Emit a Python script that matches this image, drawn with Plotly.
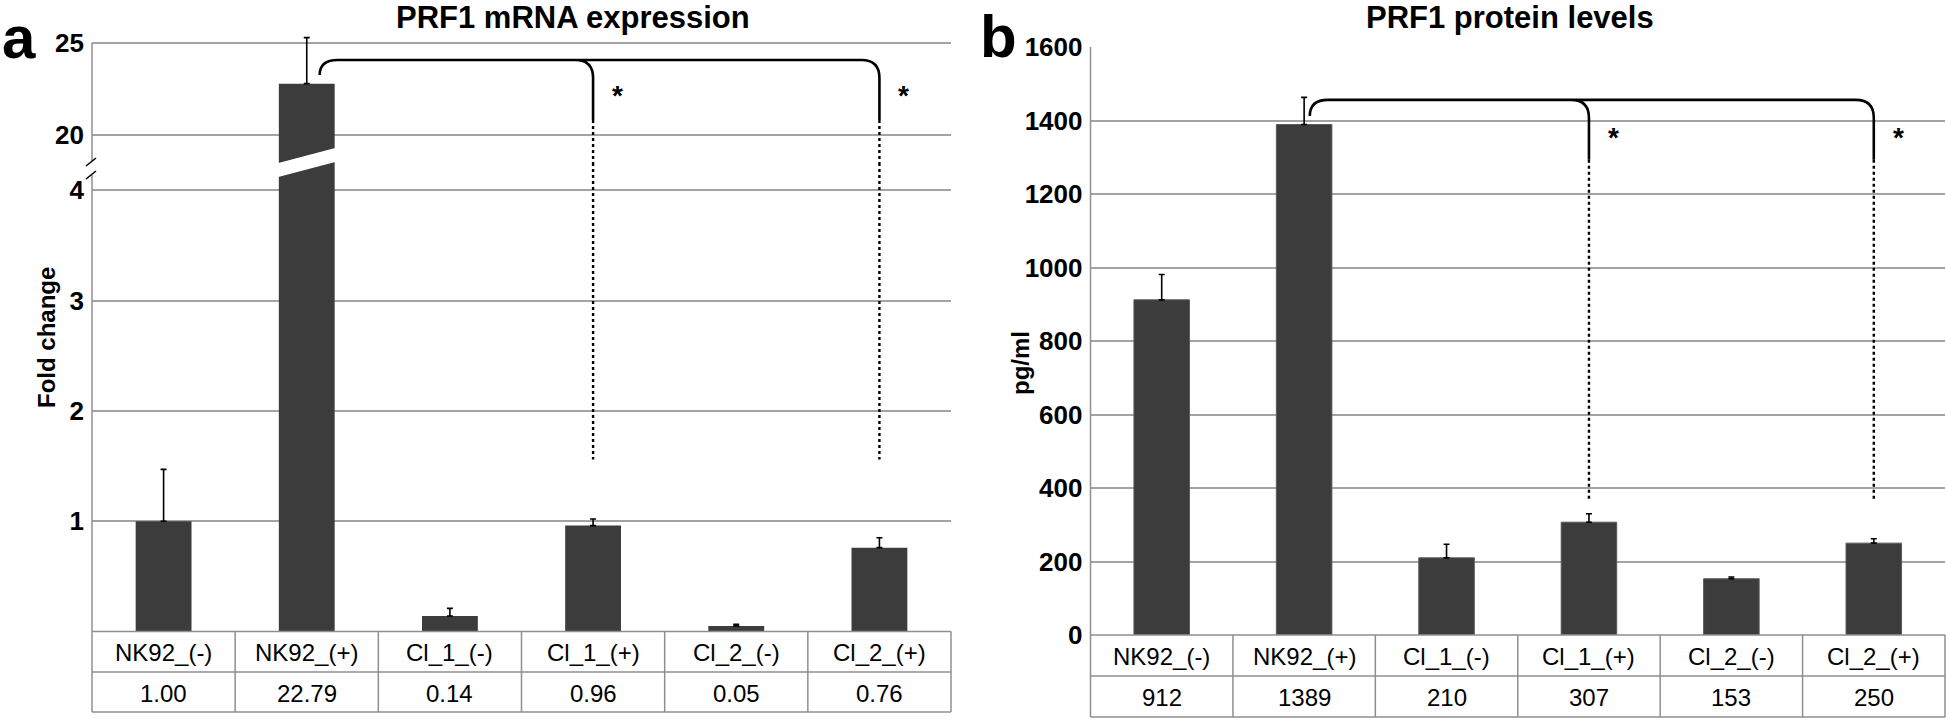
import plotly.graph_objects as go

# --- data ---------------------------------------------------------------
categories = ["NK92_(-)", "NK92_(+)", "Cl_1_(-)", "Cl_1_(+)", "Cl_2_(-)", "Cl_2_(+)"]
mrna_fold = [1.00, 22.79, 0.14, 0.96, 0.05, 0.76]
mrna_err = [0.47, 2.50, 0.07, 0.06, 0.015, 0.09]
protein_pgml = [912, 1389, 210, 307, 153, 250]
protein_err = [69, 74, 37, 23, 5, 12]
mrna_ticks_low = [1, 2, 3, 4]
mrna_ticks_high = [20, 25]
protein_ticks = [0, 200, 400, 600, 800, 1000, 1200, 1400, 1600]
signif_pairs = [(1, 3), (1, 5)]  # NK92_(+) vs Cl_1_(+), Cl_2_(+)

# --- page geometry (pixels of the 1946x721 page) -------------------------
W, H = 1946, 721
FONT = "Liberation Sans, Arial, sans-serif"
BAR = "#3c3c3c"
GRID = "#a3a3a3"
TABLE = "#8f8f8f"


def fx(px):
    return px / W


def fy(py):
    return 1 - py / H


# panel a: broken axis, lower 0-4 and upper 20-25
A_X0, A_X1 = 92, 951
A_BASE, A_CUT, A_TOP = 631.5, 163, 33
A_LO_PX = 110.3                       # px per fold unit, lower part
A_HI_20, A_HI_25 = 135, 43            # px of the 20 / 25 gridlines
a_hi_px = (A_HI_20 - A_HI_25) / 5
a_lo_range = [0, (A_BASE - A_CUT) / A_LO_PX]
a_hi_range = [20 - (A_CUT - A_HI_20) / a_hi_px, 25 + (A_HI_25 - A_TOP) / a_hi_px]
A_ROWS = [A_BASE, 672, 712]

# panel b
B_X0, B_X1 = 1090.5, 1945
B_BASE, B_TOP = 635, 47
B_ROWS = [B_BASE, 676, 717]

xs = list(range(len(categories)))
err_style = dict(type="data", symmetric=False, arrayminus=[0] * len(xs),
                 color="black", thickness=1.6, width=3)

fig = go.Figure()
fig.add_trace(go.Bar(x=xs, y=mrna_fold, xaxis="x", yaxis="y", marker_color=BAR,
                     marker_line_width=0, error_y=dict(array=mrna_err, **err_style)))
fig.add_trace(go.Bar(x=xs, y=mrna_fold, xaxis="x2", yaxis="y2", marker_color=BAR,
                     marker_line_width=0, error_y=dict(array=mrna_err, **err_style)))
fig.add_trace(go.Bar(x=xs, y=protein_pgml, xaxis="x3", yaxis="y3", marker_color=BAR,
                     marker_line=dict(color="#5a5a5a", width=1),
                     error_y=dict(array=protein_err, **err_style)))

xcommon = dict(range=[-0.5, len(xs) - 0.5], showticklabels=False, showgrid=False,
               zeroline=False, showline=False, ticks="", automargin=False)
ycommon = dict(showgrid=True, gridcolor=GRID, gridwidth=1.5, zeroline=False,
               showline=False, ticks="", ticklabelstandoff=7, automargin=False,
               tickfont=dict(family=FONT, size=26, color="black", weight="bold"))

fig.update_layout(
    width=W, height=H, margin=dict(l=0, r=0, t=0, b=0, pad=0, autoexpand=False),
    paper_bgcolor="white", plot_bgcolor="white", showlegend=False, bargap=0.61,
    xaxis=dict(domain=[fx(A_X0), fx(A_X1)], anchor="y", **xcommon),
    xaxis2=dict(domain=[fx(A_X0), fx(A_X1)], anchor="y2", **xcommon),
    xaxis3=dict(domain=[fx(B_X0), fx(B_X1)], anchor="y3", **xcommon),
    yaxis=dict(domain=[fy(A_BASE), fy(A_CUT)], anchor="x", range=a_lo_range,
               tickvals=mrna_ticks_low, **ycommon),
    yaxis2=dict(domain=[fy(A_CUT), fy(A_TOP)], anchor="x2", range=a_hi_range,
                tickvals=mrna_ticks_high, **ycommon),
    yaxis3=dict(domain=[fy(B_BASE), fy(B_TOP)], anchor="x3",
                range=[protein_ticks[0], protein_ticks[-1]],
                tickvals=protein_ticks, **ycommon),
)

shapes = []
annotations = []


def pline(x0, y0, x1, y1, color, width, dash="solid"):
    shapes.append(dict(type="line", xref="paper", yref="paper",
                       x0=fx(x0), y0=fy(y0), x1=fx(x1), y1=fy(y1),
                       line=dict(color=color, width=width, dash=dash)))


def table(x0, x1, rows, values):
    n = len(categories)
    step = (x1 - x0) / n
    for r in rows:
        pline(x0, r, x1, r, TABLE, 1.5)
    for i in range(n + 1):
        pline(x0 + i * step, rows[0], x0 + i * step, rows[-1], TABLE, 1.5)
    for i, (c, v) in enumerate(zip(categories, values)):
        cx = x0 + (i + 0.5) * step
        for txt, (ra, rb) in ((c, rows[0:2]), (v, rows[1:3])):
            annotations.append(dict(xref="paper", yref="paper", x=fx(cx),
                                    y=fy((ra + rb) / 2 + 1), text=txt, showarrow=False,
                                    xanchor="center", yanchor="middle",
                                    font=dict(family=FONT, size=24, color="black")))


table(A_X0, A_X1, A_ROWS, [f"{v:.2f}" for v in mrna_fold])
table(B_X0, B_X1, B_ROWS, [str(v) for v in protein_pgml])

# y axis lines (panel a has a break)
pline(A_X0, A_HI_25, A_X0, 161, TABLE, 1.5)
pline(A_X0, 175, A_X0, A_BASE, TABLE, 1.5)
pline(86, 166, 96, 158, "black", 1.6)
pline(86, 179, 96, 171, "black", 1.6)
pline(B_X0, B_TOP, B_X0, B_BASE, TABLE, 1.5)

# white cut across the tallest mRNA bar
big = mrna_fold.index(max(mrna_fold))
half = (1 - 0.61) / 2 + 0.03
shapes.append(dict(type="path", xref="x", yref="paper", layer="above",
                   path=(f"M {big - half},{fy(164)} L {big + half},{fy(147)} "
                         f"L {big + half},{fy(161)} L {big - half},{fy(178)} Z"),
                   fillcolor="white", line=dict(width=0)))


def bracket(xref, yref, start_dx, y_start, y_top, y_solid, r_x, r_y):
    """Rounded bracket from the reference bar to each compared bar."""
    ref = signif_pairs[0][0]
    xs0 = ref + start_dx
    far = max(p[1] for p in signif_pairs)
    path = (f"M {xs0},{y_start} Q {xs0},{y_top} {xs0 + r_x},{y_top} "
            f"L {far - r_x},{y_top} Q {far},{y_top} {far},{y_top - r_y} "
            f"L {far},{y_solid}")
    for _, tgt in signif_pairs:
        if tgt != far:
            path += (f" M {tgt - r_x},{y_top} Q {tgt},{y_top} {tgt},{y_top - r_y} "
                     f"L {tgt},{y_solid}")
    shapes.append(dict(type="path", xref=xref, yref=yref, path=path,
                       line=dict(color="black", width=2.6)))


def dotted(xref, yref, y0, y1):
    for _, tgt in signif_pairs:
        shapes.append(dict(type="line", xref=xref, yref=yref, x0=tgt, x1=tgt,
                           y0=y0, y1=y1, line=dict(color="black", width=2.4, dash="dot")))


def stars(xref, yref, y):
    for _, tgt in signif_pairs:
        annotations.append(dict(xref=xref, yref=yref, x=tgt + 0.17, y=y, text="<b>*</b>",
                                showarrow=False, yshift=-6,
                                font=dict(family=FONT, size=28, color="black")))


# panel a bracket (upper axis), dotted drop crossing into the lower axis
bracket("x2", "y2", 0.09, 23.26, 24.08, 20.82, 18 / (859 / 6), 18 / a_hi_px)
dotted("x2", "y2", 20.82, a_hi_range[0])
dotted("x", "y", a_lo_range[1], 1.56)
stars("x2", "y2", 22.45)

# panel b bracket
b_px = (B_BASE - B_TOP) / protein_ticks[-1]
bracket("x3", "y3", 0.04, 1412, 1456, 1293, 18 / (854.5 / 6), 18 / b_px)
dotted("x3", "y3", 1293, 367)
stars("x3", "y3", 1369)


def text(x, y, s, size, angle=0, xanchor="center"):
    annotations.append(dict(xref="paper", yref="paper", x=fx(x), y=fy(y), text=s,
                            showarrow=False, textangle=angle, xanchor=xanchor,
                            yanchor="middle",
                            font=dict(family=FONT, size=size, color="black")))


text(573, 18, "<b>PRF1 mRNA expression</b>", 31)
text(1510, 18, "<b>PRF1 protein levels</b>", 31)
text(0, 38, "<b>a</b>", 60, xanchor="left")
text(978, 37, "<b>b</b>", 60, xanchor="left")
text(46, 338, "<b>Fold change</b>", 24, angle=-90)
text(1020, 363, "<b>pg/ml</b>", 24, angle=-90)

fig.update_layout(shapes=shapes, annotations=annotations)
fig.write_html("out.html", config={"displayModeBar": False},
               post_script="document.body.style.margin='0';")
